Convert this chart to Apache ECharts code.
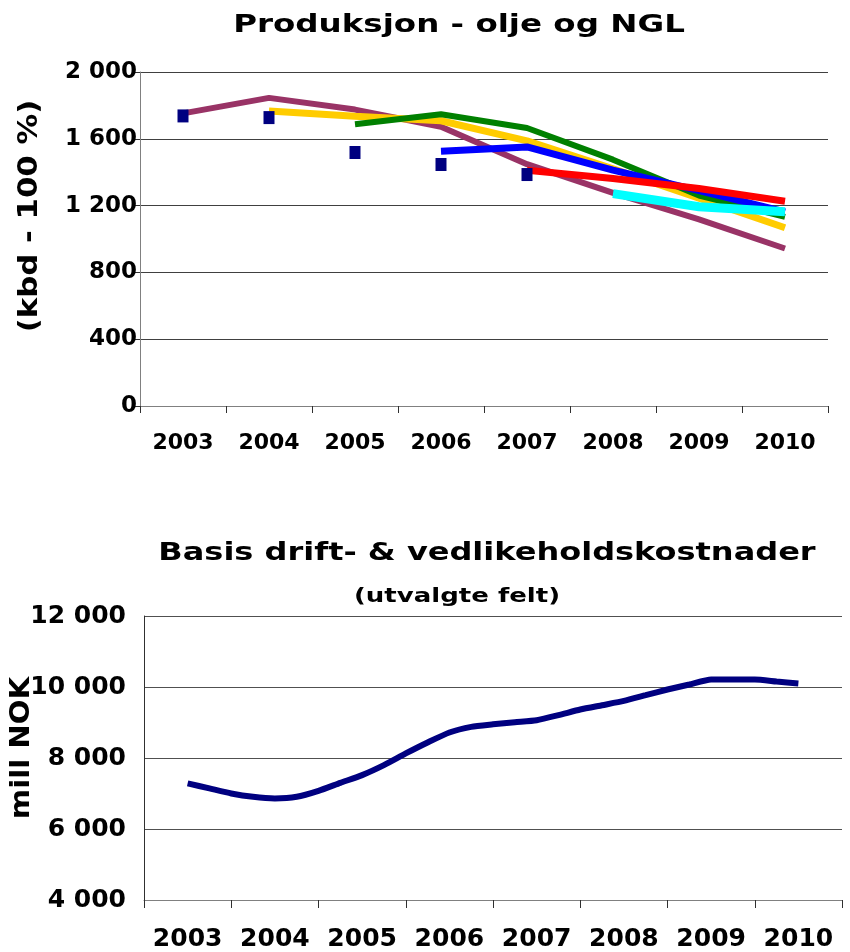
<!DOCTYPE html>
<html>
<head>
<meta charset="utf-8">
<script src="https://cdn.jsdelivr.net/npm/echarts@6/dist/echarts.min.js"></script>
<style>
  html, body { margin: 0; padding: 0; background: #fff; }
  #chart { width: 850px; height: 952px; }
</style>
</head>
<body>
<div id="chart"></div>
<script>
// produksjon - olje og NGL (kbd), ett prognoseår per linje
const years = ['2003', '2004', '2005', '2006', '2007', '2008', '2009', '2010']
const prog2003 = [1752, 1845, 1775, 1672, 1448, 1276, 1117, 943]
const prog2004 = [null, 1767, 1735, 1708, 1588, 1420, 1245, 1067]
const prog2005 = [null, null, 1687, 1747, 1665, 1475, 1260, 1133]
const prog2006 = [null, null, null, 1526, 1551, 1412, 1290, 1162]
const prog2007 = [null, null, null, null, 1412, 1362, 1302, 1226]
const prog2008 = [null, null, null, null, null, 1272, 1193, 1163]
const actual = [1737, 1727, 1518, 1446, 1386, null, null, null]

// basis drift- og vedlikeholdskostnader, mill NOK (kvartalsvis)
const costX = [2003, 2003.25, 2003.5, 2003.75, 2004, 2004.25, 2004.5, 2004.75,
  2005, 2005.25, 2005.5, 2005.75, 2006, 2006.25, 2006.5, 2006.75,
  2007, 2007.25, 2007.5, 2007.75, 2008, 2008.25, 2008.5, 2008.75,
  2009, 2009.25, 2009.5, 2009.75, 2010]
const costY = [7284, 7143, 7002, 6907, 6862, 6907, 7076, 7301,
  7518, 7799, 8128, 8437, 8719, 8877, 8948, 9009,
  9065, 9206, 9366, 9487, 9608, 9769, 9929, 10070,
  10211, 10211, 10211, 10154, 10098]

const FONT = 'DejaVu Sans'
const fmt = v => String(v).replace(/\B(?=(\d{3})+(?!\d))/g, ' ')

const chart = echarts.init(document.getElementById('chart'))

const line = (data, color, width) => ({
  type: 'line',
  xAxisIndex: 0,
  yAxisIndex: 0,
  data: data,
  symbol: 'none',
  connectNulls: false,
  lineStyle: { color: color, width: width, cap: 'butt' },
  itemStyle: { color: color }
})

// titler og aksenavn, strukket litt i bredden som i originalen
const txt = (text, x, y, size, stretch, rot) => ({
  type: 'text',
  x: x,
  y: y,
  scaleX: stretch,
  rotation: rot || 0,
  style: {
    text: text,
    fontFamily: FONT,
    fontSize: size,
    fontWeight: 'bold',
    fill: '#000',
    align: 'center',
    verticalAlign: 'middle'
  }
})

const option = {
  backgroundColor: '#fff',
  animation: false,
  grid: [
    { left: 140, right: 22, top: 72, height: 334 },
    { left: 144, right: 8, top: 616, height: 284 }
  ],
  graphic: [
    txt('Produksjon - olje og NGL', 459, 25, 25, 1.3),
    txt('(kbd - 100 %)', 30, 216, 27, 1.14, Math.PI / 2),
    txt('Basis drift- & vedlikeholdskostnader', 487, 553, 25, 1.28),
    txt('(utvalgte felt)', 457, 597, 20, 1.3),
    txt('mill NOK', 22, 748, 27, 1.08, Math.PI / 2)
  ],
  xAxis: [
    {
      gridIndex: 0,
      type: 'category',
      data: years,
      boundaryGap: true,
      axisLine: { lineStyle: { color: '#808080', width: 1 } },
      axisTick: { show: true, interval: 0, length: 7, lineStyle: { color: '#303030' } },
      axisLabel: { interval: 0, fontFamily: FONT, fontSize: 22, fontWeight: 'bold', color: '#000', margin: 26 }
    },
    {
      gridIndex: 1,
      type: 'category',
      data: years,
      boundaryGap: true,
      axisLine: { lineStyle: { color: '#808080', width: 1 } },
      axisTick: { show: true, interval: 0, length: 8, lineStyle: { color: '#303030' } },
      axisLabel: { interval: 0, hideOverlap: false, fontFamily: FONT, fontSize: 25, fontWeight: 'bold', color: '#000', margin: 27 }
    },
    {
      gridIndex: 1,
      type: 'value',
      min: 2002.5,
      max: 2010.5,
      show: false
    }
  ],
  yAxis: [
    {
      gridIndex: 0,
      type: 'value',
      min: 0,
      max: 2000,
      interval: 400,
      axisLine: { show: true, lineStyle: { color: '#808080' } },
      axisTick: { show: true, length: 7, lineStyle: { color: '#303030' } },
      splitLine: { lineStyle: { color: '#404040', width: 1 } },
      axisLabel: { fontFamily: FONT, fontSize: 23, fontWeight: 'bold', color: '#000', margin: 3, formatter: fmt }
    },
    {
      gridIndex: 1,
      type: 'value',
      min: 4000,
      max: 12000,
      interval: 2000,
      axisLine: { show: true, lineStyle: { color: '#303030' } },
      axisTick: { show: false },
      splitLine: { lineStyle: { color: '#505050', width: 1 } },
      axisLabel: { fontFamily: FONT, fontSize: 25, fontWeight: 'bold', color: '#000', margin: 18, formatter: fmt }
    }
  ],
  series: [
    line(prog2003, '#993366', 6),
    line(prog2004, '#FFCC00', 7),
    line(prog2005, '#008000', 6),
    line(prog2006, '#0000FF', 7),
    line(prog2007, '#FF0000', 7),
    line(prog2008, '#00FFFF', 9),
    {
      type: 'scatter',
      xAxisIndex: 0,
      yAxisIndex: 0,
      data: actual,
      symbol: 'rect',
      symbolSize: [11, 13],
      itemStyle: { color: '#000080', opacity: 1 },
      z: 5
    },
    {
      type: 'line',
      xAxisIndex: 2,
      yAxisIndex: 1,
      data: costX.map((x, i) => [x, costY[i]]),
      symbol: 'none',
      smooth: 0.2,
      lineStyle: { color: '#000080', width: 6 }
    }
  ]
}

chart.setOption(option)
</script>
</body>
</html>
